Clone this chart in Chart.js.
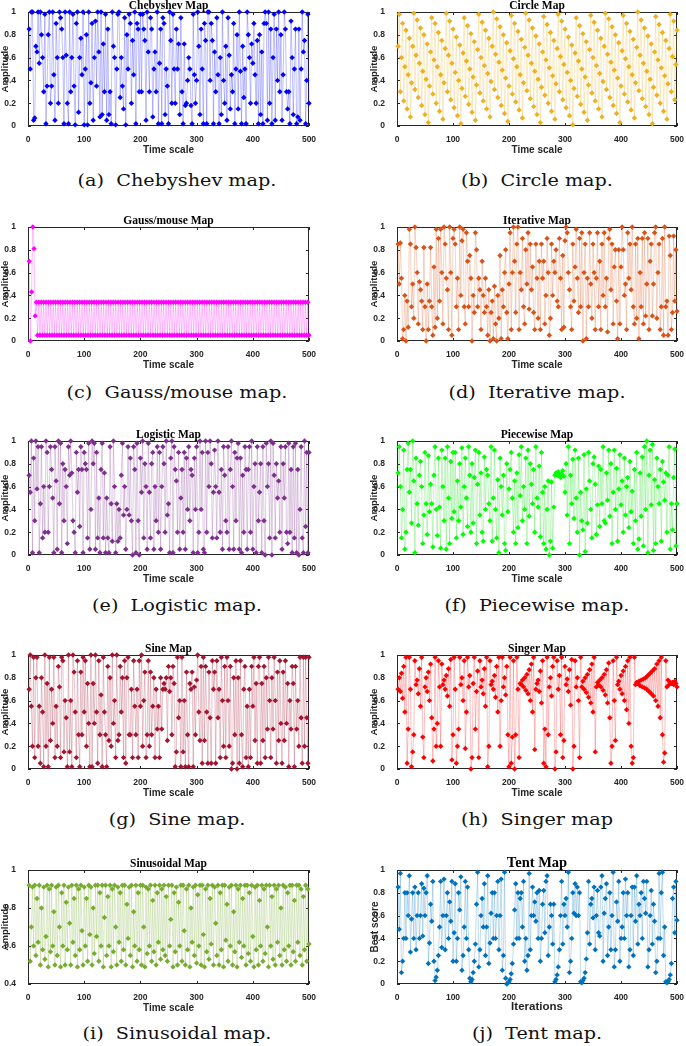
<!DOCTYPE html>
<html>
<head>
<meta charset="utf-8">
<script src="https://cdn.jsdelivr.net/npm/chart.js@4.4.1/dist/chart.umd.min.js"></script>
<style>
  body { margin: 0; background: #fff; }
  #page { position: relative; width: 686px; height: 1046px; overflow: hidden; }
  #page canvas { position: absolute; }
  .caption {
    position: absolute;
    font-family: "DejaVu Serif", serif;
    font-size: 16px;
    color: #111;
    white-space: pre;
    transform: translate(-50%, -50%) scaleX(1.2);
  }
</style>
</head>
<body>
<div id="page"></div>
<script>
const xTicks = [0, 100, 200, 300, 400, 500];
const amplitudeTicks = [0, 0.2, 0.4, 0.6, 0.8, 1];
const sinusoidalTicks = [0.4, 0.6, 0.8, 1];

const chebyshevValues = [
  0.85, 0.5, 1.0, 1.0, 0.05, 0.07, 0.7, 0.65, 1.0, 0.55,
  1.0, 0.8, 0.6, 0.3, 0.98, 0.02, 0.35, 0.8, 1.0, 0.2,
  0.35, 1.0, 0.45, 0.05, 0.9, 0.6, 0.2, 1.0, 0.95, 0.85,
  0.6, 0.02, 1.0, 0.62, 0.2, 0.02, 1.0, 0.3, 0.6, 0.98,
  0.35, 0.01, 0.9, 1.0, 0.12, 0.6, 0.77, 0.45, 1.0, 0.01,
  0.5, 0.8, 0.01, 1.0, 0.2, 0.38, 0.9, 0.05, 0.6, 0.92,
  0.35, 1.0, 0.65, 0.08, 1.0, 0.1, 0.72, 0.3, 0.98, 0.05,
  0.85, 0.1, 0.3, 0.02, 1.0, 0.7, 0.6, 0.01, 0.5, 0.98,
  1.0, 0.25, 0.6, 0.35, 0.15, 0.95, 0.01, 0.8, 0.5, 0.98,
  0.9, 0.2, 0.75, 0.45, 1.0, 0.02, 0.9, 0.85, 0.3, 0.98,
  0.3, 0.98, 0.85, 0.75, 0.05, 1.0, 0.65, 0.3, 0.95, 0.85,
  0.08, 0.5, 0.65, 0.3, 1.0, 0.02, 0.55, 0.85, 0.02, 0.95,
  0.9, 0.1, 0.5, 0.35, 0.02, 1.0, 0.75, 0.2, 0.98, 0.5,
  0.2, 0.85, 0.5, 0.72, 0.1, 0.95, 0.3, 0.02, 0.72, 0.18,
  0.2, 0.4, 0.6, 0.5, 0.18, 0.02, 0.98, 0.45, 0.2, 0.4,
  1.0, 0.7, 0.1, 0.85, 0.5, 0.02, 0.9, 0.75, 0.02, 1.0,
  1.0, 0.4, 0.9, 0.75, 0.02, 0.65, 0.3, 0.95, 0.45, 0.02,
  0.6, 0.1, 1.0, 0.4, 0.2, 0.7, 0.05, 0.95, 0.62, 0.15,
  0.45, 0.3, 0.9, 0.02, 0.5, 0.8, 0.15, 1.0, 0.48, 0.02,
  0.7, 0.25, 0.5, 0.02, 1.0, 0.8, 0.6, 0.2, 0.72, 0.55,
  0.9, 0.45, 0.2, 0.75, 0.02, 0.8, 0.1, 0.65, 0.02, 0.9,
  1.0, 0.9, 0.05, 1.0, 0.2, 0.85, 0.02, 0.6, 0.98, 0.05,
  0.85, 0.4, 1.0, 0.3, 0.8, 0.05, 0.45, 1.0, 0.85, 0.3,
  0.15, 0.3, 0.02, 0.92, 0.6, 0.1, 0.5, 0.85, 0.02, 0.08,
  0.85, 0.05, 0.5, 1.0, 0.65, 0.75, 0.02, 0.4, 0.98, 0.2
];

const circleValues = [
  0.70, 0.98, 0.30, 0.60, 0.90, 0.22, 0.52, 0.84, 0.15, 0.45,
  0.77, 0.08, 0.38, 0.70, 0.99, 0.32, 0.62, 0.93, 0.25, 0.55,
  0.86, 0.18, 0.48, 0.80, 0.10, 0.41, 0.72, 0.03, 0.35, 0.65,
  0.95, 0.28, 0.58, 0.90, 0.20, 0.52, 0.82, 0.13, 0.45, 0.75,
  0.06, 0.38, 0.68, 0.99, 0.30, 0.62, 0.92, 0.23, 0.55, 0.85,
  0.16, 0.47, 0.78, 0.09, 0.40, 0.71, 0.02, 0.33, 0.64, 0.95,
  0.26, 0.57, 0.88, 0.19, 0.50, 0.81, 0.12, 0.43, 0.74, 0.05,
  0.36, 0.67, 0.98, 0.29, 0.60, 0.91, 0.22, 0.53, 0.84, 0.15,
  0.46, 0.77, 0.08, 0.39, 0.70, 1.00, 0.32, 0.63, 0.94, 0.25,
  0.56, 0.87, 0.18, 0.49, 0.80, 0.11, 0.42, 0.73, 0.04, 0.35,
  0.66, 0.97, 0.28, 0.59, 0.90, 0.21, 0.52, 0.83, 0.14, 0.45,
  0.76, 0.07, 0.38, 0.69, 0.99, 0.31, 0.62, 0.93, 0.24, 0.55,
  0.86, 0.17, 0.48, 0.79, 0.10, 0.41, 0.72, 0.03, 0.34, 0.65,
  0.96, 0.27, 0.58, 0.89, 0.20, 0.51, 0.82, 0.13, 0.44, 0.75,
  0.06, 0.37, 0.68, 0.98, 0.30, 0.61, 0.92, 0.23, 0.54, 0.85,
  0.16, 0.47, 0.78, 0.09, 0.40, 0.71, 0.01, 0.33, 0.64, 0.95,
  0.26, 0.57, 0.88, 0.19, 0.50, 0.81, 0.12, 0.43, 0.74, 0.05,
  0.36, 0.67, 0.97, 0.29, 0.60, 0.91, 0.22, 0.53, 0.84, 0.15,
  0.46, 0.77, 0.08, 0.39, 0.70, 0.99, 0.32, 0.63, 0.94, 0.25,
  0.56, 0.87, 0.18, 0.49, 0.80, 0.11, 0.42, 0.73, 0.03, 0.35,
  0.66, 0.97, 0.28, 0.59, 0.90, 0.21, 0.52, 0.83, 0.14, 0.45,
  0.76, 0.07, 0.38, 0.69, 1.00, 0.31, 0.62, 0.93, 0.24, 0.55,
  0.86, 0.17, 0.48, 0.79, 0.10, 0.41, 0.72, 0.02, 0.34, 0.65,
  0.96, 0.27, 0.58, 0.89, 0.20, 0.51, 0.82, 0.13, 0.44, 0.75,
  0.06, 0.37, 0.68, 0.98, 0.30, 0.61, 0.92, 0.23, 0.54, 0.84
];

const gaussValues = [
  0.7, 0.0, 0.43, 1.0, 0.81, 0.22,
  0.34, 0.05, 0.34, 0.05, 0.34, 0.05, 0.34, 0.05, 0.34, 0.05, 0.34, 0.05, 0.34, 0.05, 0.34, 0.05, 0.34, 0.05, 0.34, 0.05,
  0.34, 0.05, 0.34, 0.05, 0.34, 0.05, 0.34, 0.05, 0.34, 0.05, 0.34, 0.05, 0.34, 0.05, 0.34, 0.05, 0.34, 0.05, 0.34, 0.05,
  0.34, 0.05, 0.34, 0.05, 0.34, 0.05, 0.34, 0.05, 0.34, 0.05, 0.34, 0.05, 0.34, 0.05, 0.34, 0.05, 0.34, 0.05, 0.34, 0.05,
  0.34, 0.05, 0.34, 0.05, 0.34, 0.05, 0.34, 0.05, 0.34, 0.05, 0.34, 0.05, 0.34, 0.05, 0.34, 0.05, 0.34, 0.05, 0.34, 0.05,
  0.34, 0.05, 0.34, 0.05, 0.34, 0.05, 0.34, 0.05, 0.34, 0.05, 0.34, 0.05, 0.34, 0.05, 0.34, 0.05, 0.34, 0.05, 0.34, 0.05,
  0.34, 0.05, 0.34, 0.05, 0.34, 0.05, 0.34, 0.05, 0.34, 0.05, 0.34, 0.05, 0.34, 0.05, 0.34, 0.05, 0.34, 0.05, 0.34, 0.05,
  0.34, 0.05, 0.34, 0.05, 0.34, 0.05, 0.34, 0.05, 0.34, 0.05, 0.34, 0.05, 0.34, 0.05, 0.34, 0.05, 0.34, 0.05, 0.34, 0.05,
  0.34, 0.05, 0.34, 0.05, 0.34, 0.05, 0.34, 0.05, 0.34, 0.05, 0.34, 0.05, 0.34, 0.05, 0.34, 0.05, 0.34, 0.05, 0.34, 0.05,
  0.34, 0.05, 0.34, 0.05, 0.34, 0.05, 0.34, 0.05, 0.34, 0.05, 0.34, 0.05, 0.34, 0.05, 0.34, 0.05, 0.34, 0.05, 0.34, 0.05,
  0.34, 0.05, 0.34, 0.05, 0.34, 0.05, 0.34, 0.05, 0.34, 0.05, 0.34, 0.05, 0.34, 0.05, 0.34, 0.05, 0.34, 0.05, 0.34, 0.05,
  0.34, 0.05, 0.34, 0.05, 0.34, 0.05, 0.34, 0.05, 0.34, 0.05, 0.34, 0.05, 0.34, 0.05, 0.34, 0.05, 0.34, 0.05, 0.34, 0.05,
  0.34, 0.05, 0.34, 0.05, 0.34, 0.05, 0.34, 0.05
];

const iterativeValues = [
  0.85, 0.5, 0.86, 0.55, 0.02, 0.1, 0.4, 0.0, 0.35, 0.12,
  0.98, 0.85, 0.3, 0.5, 0.2, 1.0, 0.82, 0.6, 0.15, 0.52,
  0.45, 0.35, 0.1, 0.82, 0.3, 0.0, 0.5, 0.1, 0.35, 0.82,
  0.3, 0.05, 0.65, 0.12, 0.98, 0.2, 0.9, 0.35, 0.98, 0.6,
  0.15, 1.0, 0.85, 0.55, 0.45, 0.1, 1.0, 0.6, 0.05, 0.9,
  0.98, 0.85, 0.3, 0.55, 0.1, 1.0, 0.4, 0.88, 0.98, 0.3,
  0.15, 0.95, 0.7, 0.3, 0.75, 0.55, 0.0, 0.4, 0.25, 0.95,
  0.8, 0.3, 0.55, 0.45, 0.1, 0.7, 0.4, 0.25, 0.55, 0.3,
  0.05, 0.45, 0.0, 0.25, 0.35, 0.02, 0.48, 0.15, 0.0, 0.4,
  0.2, 0.75, 0.02, 0.45, 0.3, 0.6, 0.8, 0.25, 0.02, 0.5,
  0.95, 0.1, 0.6, 1.0, 0.7, 0.25, 0.85, 1.0, 0.1, 0.6,
  0.45, 0.9, 0.3, 0.15, 0.8, 0.5, 0.95, 0.28, 0.85, 0.45,
  0.65, 0.25, 0.1, 0.85, 0.55, 0.2, 0.7, 0.1, 0.85, 0.55,
  0.7, 0.15, 0.4, 0.9, 0.6, 0.05, 0.2, 0.85, 0.4, 0.7,
  0.6, 0.8, 0.35, 0.3, 0.9, 0.55, 0.1, 0.75, 0.12, 0.88,
  1.0, 0.95, 0.6, 0.45, 0.3, 0.1, 0.85, 0.35, 0.65, 0.98,
  0.55, 0.25, 0.9, 0.3, 0.95, 0.0, 0.6, 0.85, 0.02, 0.55,
  0.3, 0.95, 0.5, 0.2, 0.85, 0.6, 0.1, 0.55, 0.95, 0.3,
  0.7, 0.1, 0.85, 0.4, 0.95, 0.3, 0.55, 0.08, 0.9, 0.98,
  0.45, 0.85, 0.15, 0.65, 0.8, 0.35, 0.02, 0.8, 0.15, 0.65,
  1.0, 0.8, 0.4, 0.5, 0.1, 0.95, 0.55, 0.85, 0.45, 1.0,
  0.3, 0.15, 0.85, 0.2, 0.9, 0.02, 0.6, 0.3, 0.9, 0.15,
  0.95, 0.22, 0.5, 0.9, 0.1, 0.7, 0.85, 0.22, 0.5, 0.95,
  1.0, 0.2, 0.6, 0.85, 0.1, 0.3, 0.9, 0.05, 1.0, 0.3,
  0.35, 0.05, 0.92, 0.75, 0.1, 0.25, 0.92, 0.35, 0.8, 0.26
];

const logisticValues = [
  0.7, 0.55, 1.0, 0.02, 0.85, 0.3, 1.0, 0.58, 0.95, 0.02,
  0.45, 0.95, 0.15, 0.6, 0.2, 1.0, 0.9, 0.2, 0.6, 0.95,
  0.75, 0.5, 0.02, 0.95, 0.65, 0.05, 1.0, 0.45, 0.98, 0.02,
  0.8, 0.3, 0.75, 0.6, 0.1, 0.95, 0.7, 1.0, 0.72, 0.3,
  0.2, 0.02, 0.9, 0.55, 0.75, 0.25, 0.95, 0.75, 0.02, 0.9,
  0.8, 0.75, 0.15, 0.98, 0.05, 0.4, 1.0, 0.8, 0.98, 0.05,
  0.9, 0.15, 0.5, 0.02, 0.75, 0.98, 0.15, 0.72, 0.02, 0.5,
  0.15, 0.02, 0.95, 0.45, 0.12, 1.0, 0.6, 0.02, 0.45, 0.12,
  0.4, 0.15, 0.7, 0.98, 0.35, 0.6, 0.05, 0.4, 0.95, 0.35,
  0.85, 0.3, 0.0, 0.95, 0.75, 0.02, 0.98, 0.3, 0.0, 0.85,
  0.55, 1.0, 0.15, 0.8, 0.6, 0.05, 0.98, 0.55, 0.15, 0.8,
  0.9, 0.05, 0.6, 0.3, 0.95, 0.2, 0.9, 0.05, 0.6, 0.95,
  0.8, 0.2, 1.0, 0.35, 0.45, 0.02, 0.85, 1.0, 0.02, 0.95,
  0.75, 0.65, 0.2, 0.9, 0.05, 0.5, 0.75, 0.2, 0.9, 0.05,
  0.85, 0.4, 0.95, 0.3, 0.75, 0.7, 0.02, 0.85, 0.4, 0.95,
  0.02, 0.2, 1.0, 0.4, 0.9, 0.05, 0.02, 1.0, 0.2, 0.9,
  0.6, 1.0, 0.8, 0.15, 0.55, 0.92, 0.6, 0.15, 1.0, 0.55,
  0.2, 0.75, 0.05, 0.95, 0.7, 0.3, 0.2, 0.95, 0.05, 0.75,
  1.0, 0.6, 0.05, 0.9, 0.3, 0.85, 0.98, 0.05, 0.85, 0.02,
  0.7, 0.2, 0.95, 0.75, 0.05, 0.75, 0.95, 0.2, 1.0, 0.05,
  0.6, 0.8, 0.02, 0.95, 0.3, 0.55, 0.8, 0.02, 0.95, 0.3,
  0.0, 0.98, 0.6, 0.8, 0.15, 1.0, 0.0, 0.98, 0.7, 0.15,
  0.8, 0.5, 0.65, 0.2, 0.95, 0.05, 0.8, 0.5, 0.95, 0.2,
  0.1, 0.98, 0.2, 0.75, 0.02, 0.95, 0.15, 0.98, 0.02, 0.75,
  0.0, 0.4, 0.95, 0.15, 0.02, 1.0, 0.25, 0.9, 0.02, 0.9
];

const piecewiseValues = [
  0.72, 0.95, 0.6, 0.15, 0.4, 0.92, 0.05, 0.2, 0.75, 0.98,
  0.55, 0.75, 0.28, 1.0, 0.65, 0.02, 0.85, 0.45, 0.26, 0.7,
  0.82, 0.6, 0.1, 0.35, 0.9, 0.45, 0.18, 0.87, 0.38, 0.62,
  0.45, 0.07, 0.7, 0.95, 0.4, 0.17, 0.85, 0.42, 0.06, 0.92,
  0.6, 0.3, 0.85, 0.05, 0.95, 0.5, 0.1, 0.82, 0.32, 0.9,
  0.38, 0.9, 0.15, 0.65, 0.3, 0.8, 0.42, 0.94, 0.18, 0.6,
  0.85, 0.5, 0.25, 0.95, 0.7, 0.2, 0.8, 0.28, 0.68, 0.92,
  0.1, 0.62, 0.9, 0.35, 0.72, 0.2, 0.12, 0.86, 0.4, 0.75,
  0.7, 0.45, 0.3, 0.95, 0.12, 0.5, 0.92, 0.4, 0.15, 0.66,
  0.02, 0.85, 0.6, 0.35, 0.7, 0.1, 0.04, 0.8, 0.38, 0.58,
  0.75, 0.9, 0.5, 0.2, 0.65, 0.1, 0.72, 0.24, 0.88, 0.52,
  0.95, 0.3, 0.6, 0.4, 0.85, 0.1, 0.92, 0.34, 0.8, 0.62,
  0.45, 0.75, 0.2, 0.95, 0.5, 0.42, 0.78, 0.16, 0.9, 0.55,
  0.1, 0.6, 0.05, 0.4, 0.65, 0.0, 0.12, 0.64, 0.06, 0.42,
  0.7, 0.72, 0.7, 0.73, 0.7, 0.68, 0.71, 0.74, 0.69, 0.55,
  0.8, 0.35, 0.95, 0.1, 0.7, 0.45, 0.84, 0.32, 0.92, 0.5,
  0.2, 0.85, 0.0, 0.55, 0.3, 0.22, 0.88, 0.03, 0.58, 0.28,
  0.9, 0.65, 0.4, 0.15, 0.8, 0.86, 0.62, 0.18, 0.44, 0.78,
  0.25, 0.75, 0.45, 0.95, 0.3, 0.28, 0.72, 0.48, 0.92, 0.34,
  0.8, 0.1, 0.55, 0.92, 0.4, 0.76, 0.12, 0.58, 0.88, 0.44,
  0.65, 0.2, 0.85, 0.35, 0.6, 0.68, 0.24, 0.82, 0.38, 0.56,
  0.1, 0.75, 0.3, 0.9, 0.05, 0.14, 0.72, 0.34, 0.86, 0.08,
  0.95, 0.4, 1.0, 0.02, 0.7, 0.92, 0.44, 0.97, 0.04, 0.66,
  0.1, 0.85, 0.6, 0.45, 0.75, 0.12, 0.82, 0.64, 0.48, 0.72,
  0.2, 0.7, 0.95, 0.05, 0.45, 0.22, 0.68, 0.93, 0.08, 0.45
];

const sineValues = [
  0.7, 1.0, 0.55, 0.2, 0.98, 0.1, 0.8, 0.98, 0.2, 0.55,
  0.05, 0.8, 0.5, 0.02, 1.0, 0.2, 0.75, 0.02, 0.98, 0.25,
  0.7, 0.4, 0.98, 0.1, 0.55, 0.2, 0.9, 0.72, 0.1, 0.98,
  0.95, 0.15, 0.6, 0.45, 0.02, 1.0, 0.15, 0.6, 0.02, 1.0,
  0.85, 0.5, 0.1, 0.95, 0.3, 0.02, 0.85, 0.3, 0.98, 0.5,
  0.95, 0.2, 0.75, 0.4, 0.02, 1.0, 0.02, 0.75, 0.4, 1.0,
  0.5, 0.05, 0.95, 0.3, 0.65, 0.02, 0.98, 0.5, 0.3, 0.02,
  0.9, 0.25, 0.8, 0.2, 1.0, 0.4, 0.6, 0.1, 1.0, 0.25,
  0.3, 0.9, 0.5, 0.8, 0.1, 0.95, 0.05, 0.8, 0.98, 0.3,
  0.3, 0.7, 0.1, 0.95, 0.55, 0.3, 0.7, 0.1, 0.95, 0.55,
  1.0, 0.2, 0.6, 0.85, 0.1, 0.3, 0.95, 0.2, 0.85, 0.3,
  0.55, 0.8, 0.1, 0.7, 0.35, 0.55, 0.1, 0.8, 0.35, 0.7,
  0.75, 0.7, 0.8, 0.25, 0.9, 0.68, 0.8, 0.3, 0.9, 0.75,
  0.02, 0.15, 0.98, 0.45, 0.6, 0.02, 0.98, 0.15, 0.6, 0.02,
  0.85, 0.3, 0.02, 0.75, 0.7, 0.85, 0.02, 0.72, 0.3, 0.78,
  1.0, 0.5, 0.25, 0.9, 0.05, 0.98, 0.25, 0.9, 0.5, 0.05,
  0.85, 0.45, 0.05, 0.95, 0.7, 0.85, 0.05, 0.95, 0.45, 0.7,
  0.1, 0.98, 0.6, 0.2, 0.9, 0.1, 0.98, 0.6, 0.2, 0.9,
  0.0, 0.05, 0.8, 0.3, 0.95, 0.0, 0.8, 0.05, 0.95, 0.3,
  0.02, 0.7, 0.9, 0.1, 0.55, 0.02, 0.7, 0.1, 0.9, 0.55,
  0.98, 0.25, 0.75, 0.05, 0.9, 0.98, 0.05, 0.75, 0.25, 0.9,
  0.1, 0.8, 0.35, 0.98, 0.6, 0.1, 0.8, 0.35, 0.98, 0.6,
  0.05, 0.85, 0.25, 0.95, 0.4, 0.05, 0.85, 0.25, 0.95, 0.4,
  0.75, 0.02, 0.6, 0.35, 0.9, 0.75, 0.02, 0.9, 0.35, 0.6,
  0.2, 0.98, 0.45, 0.05, 0.98, 0.2, 0.98, 0.45, 0.05, 0.98
];

const singerValues = [
  0.7, 0.8, 0.68, 0.84, 0.62, 0.9, 0.5, 0.98, 0.05, 0.35,
  0.98, 0.7, 0.02, 0.15, 0.3, 0.95, 0.74, 0.78, 0.66, 0.88,
  0.55, 0.98, 0.28, 0.1, 0.72, 0.8, 0.68, 0.85, 0.6, 0.92,
  0.45, 0.07, 0.35, 0.98, 0.2, 0.4, 0.95, 0.72, 0.2, 0.92,
  0.74, 0.78, 0.7, 0.82, 0.64, 0.88, 0.55, 0.96, 0.08, 0.3,
  0.98, 0.7, 0.05, 0.2, 0.35, 0.98, 0.74, 0.8, 0.6, 0.95,
  0.18, 0.5, 0.98, 0.72, 0.82, 0.0, 0.1, 0.75, 0.98, 0.35,
  0.68, 0.86, 0.1, 0.95, 0.72, 0.78, 0.66, 0.88, 0.55, 0.98,
  0.02, 0.2, 0.95, 0.74, 0.77, 0.7, 0.82, 0.63, 0.9, 0.5,
  0.98, 0.2, 0.6, 0.98, 0.72, 0.8, 0.65, 0.9, 0.3, 0.02,
  0.98, 0.05, 0.28, 0.95, 0.0, 0.3, 0.98, 0.7, 0.1, 0.75,
  0.74, 0.78, 0.72, 0.8, 0.69, 0.83, 0.66, 0.87, 0.6, 0.92,
  0.5, 0.98, 0.17, 0.7, 0.75, 0.78, 0.68, 0.86, 0.58, 0.95,
  0.05, 0.35, 0.02, 0.98, 0.3, 0.72, 0.8, 0.64, 0.9, 0.98,
  0.0, 0.15, 0.95, 0.7, 0.82, 0.3, 0.98, 0.1, 0.25, 0.9,
  0.74, 0.79, 0.68, 0.87, 0.56, 0.96, 0.0, 0.2, 0.95, 0.72,
  0.8, 0.6, 0.1, 0.98, 0.72, 0.77, 0.7, 0.8, 0.67, 0.83,
  0.63, 0.87, 0.58, 0.92, 0.5, 0.98, 0.15, 0.72, 0.76, 0.74,
  0.78, 0.72, 0.8, 0.69, 0.83, 0.65, 0.87, 0.58, 0.93, 0.45,
  0.05, 0.2, 0.95, 0.6, 0.25, 0.98, 0.74, 0.77, 0.7, 0.82,
  0.66, 0.86, 0.6, 0.9, 0.52, 0.95, 0.4, 0.98, 0.2, 0.05,
  0.1, 0.98, 0.74, 0.76, 0.75, 0.77, 0.73, 0.78, 0.72, 0.79,
  0.71, 0.8, 0.7, 0.82, 0.68, 0.84, 0.66, 0.86, 0.64, 0.88,
  0.6, 0.92, 0.55, 0.95, 0.45, 0.98, 0.3, 0.06, 0.14, 0.95,
  0.72, 0.78, 0.74, 0.76, 0.75, 0.76, 0.74, 0.77, 0.75, 0.72
];

const sinusoidalValues = [
  0.92, 0.52, 0.7, 0.91, 0.6, 0.92, 0.55, 0.85, 0.62, 0.92,
  0.5, 0.8, 0.58, 0.91, 0.53, 0.65, 0.92, 0.49, 0.9, 0.57,
  0.92, 0.6, 0.78, 0.5, 0.91, 0.55, 0.92, 0.7, 0.49, 0.88,
  0.6, 0.92, 0.5, 0.83, 0.58, 0.91, 0.72, 0.5, 0.92, 0.62,
  0.85, 0.55, 0.92, 0.49, 0.9, 0.58, 0.92, 0.68, 0.5, 0.91,
  0.6, 0.85, 0.52, 0.92, 0.66, 0.91, 0.5, 0.8, 0.56, 0.92,
  0.65, 0.92, 0.52, 0.88, 0.6, 0.92, 0.49, 0.75, 0.92, 0.55,
  0.86, 0.6, 0.92, 0.49, 0.9, 0.57, 0.92, 0.7, 0.5, 0.91,
  0.62, 0.88, 0.52, 0.92, 0.58, 0.92, 0.5, 0.82, 0.64, 0.91,
  0.55, 0.92, 0.49, 0.78, 0.6, 0.92, 0.52, 0.88, 0.58, 0.92,
  0.5, 0.92, 0.7, 0.49, 0.91, 0.56, 0.9, 0.6, 0.92, 0.52,
  0.84, 0.57, 0.92, 0.5, 0.88, 0.62, 0.92, 0.53, 0.9, 0.58,
  0.92, 0.55, 0.86, 0.52, 0.92, 0.6, 0.74, 0.92, 0.49, 0.88,
  0.57, 0.91, 0.5, 0.83, 0.6, 0.92, 0.52, 0.92, 0.68, 0.5,
  0.9, 0.58, 0.92, 0.49, 0.8, 0.62, 0.91, 0.55, 0.92, 0.51,
  0.87, 0.6, 0.92, 0.5, 0.92, 0.66, 0.49, 0.9, 0.57, 0.92,
  0.53, 0.85, 0.61, 0.92, 0.5, 0.91, 0.72, 0.55, 0.92, 0.5,
  0.88, 0.58, 0.92, 0.49, 0.92, 0.63, 0.82, 0.52, 0.91, 0.6,
  0.92, 0.5, 0.78, 0.57, 0.92, 0.49, 0.9, 0.62, 0.92, 0.54,
  0.85, 0.6, 0.92, 0.5, 0.92, 0.56, 0.88, 0.52, 0.92, 0.65,
  0.49, 0.91, 0.58, 0.92, 0.5, 0.84, 0.6, 0.92, 0.52, 0.9,
  0.56, 0.92, 0.7, 0.49, 0.92, 0.6, 0.86, 0.53, 0.92, 0.5,
  0.9, 0.62, 0.92, 0.55, 0.8, 0.5, 0.92, 0.58, 0.91, 0.52,
  0.88, 0.6, 0.92, 0.5, 0.92, 0.57, 0.84, 0.52, 0.92, 0.62,
  0.92, 0.55, 0.9, 0.5, 0.86, 0.58, 0.92, 0.52, 0.9, 0.61
];

const tentValues = [
  0.85, 0.48, 0.97, 0.1, 0.2, 0.4, 0.8, 0.4, 0.8, 0.6,
  0.95, 0.28, 0.57, 0.8, 0.4, 0.85, 0.3, 0.6, 0.8, 0.4,
  0.6, 0.88, 0.42, 0.84, 0.6, 0.8, 0.95, 0.18, 0.36, 0.7,
  0.55, 0.9, 0.2, 0.03, 0.06, 0.12, 0.25, 0.5, 0.9, 0.32,
  0.6, 0.92, 0.3, 0.6, 0.8, 0.4, 0.72, 0.55, 0.9, 0.2,
  0.45, 0.88, 0.2, 0.4, 0.8, 0.65, 0.94, 0.12, 0.25, 0.5,
  0.9, 0.4, 0.85, 0.3, 0.05, 0.02, 0.04, 0.1, 0.2, 0.35,
  0.7, 0.98, 0.15, 0.3, 0.6, 0.75, 0.5, 0.88, 0.25, 0.5,
  0.95, 0.18, 0.36, 0.62, 0.8, 0.4, 0.8, 0.4, 0.6, 0.9,
  0.3, 0.6, 0.92, 0.12, 0.25, 0.98, 0.05, 0.0, 0.01, 0.02,
  0.04, 0.09, 0.18, 0.35, 0.65, 0.88, 0.4, 0.8, 0.4, 0.75,
  0.8, 0.5, 0.9, 0.2, 0.4, 0.12, 0.25, 0.97, 0.3, 0.6,
  0.85, 0.6, 0.72, 0.55, 0.8, 0.4, 0.82, 0.2, 0.4, 0.7,
  0.82, 0.45, 0.9, 0.95, 0.25, 0.5, 0.7, 0.6, 0.35, 0.7,
  0.02, 0.04, 0.08, 0.15, 0.3, 0.6, 0.9, 0.35, 0.7, 0.6,
  0.75, 0.5, 0.98, 0.1, 0.2, 0.4, 0.8, 0.62, 0.88, 0.6,
  0.85, 0.6, 0.8, 0.02, 0.01, 0.03, 0.05, 0.1, 0.22, 0.45,
  0.9, 0.35, 0.7, 0.75, 0.58, 0.85, 0.3, 0.6, 0.82, 0.45,
  0.42, 0.85, 0.95, 0.2, 0.62, 0.75, 0.88, 0.25, 0.5, 0.8,
  0.3, 0.6, 0.98, 0.15, 0.3, 0.72, 0.55, 0.9, 0.2, 0.4,
  0.5, 0.8, 0.4, 0.92, 0.6, 0.8, 0.15, 0.3, 0.6, 0.85,
  0.25, 0.85, 0.55, 0.95, 0.35, 0.7, 0.6, 0.8, 0.4, 0.9,
  0.75, 0.62, 0.9, 0.15, 0.3, 0.6, 0.82, 0.35, 0.7, 0.55,
  0.1, 0.2, 0.4, 0.97, 0.4, 0.8, 0.98, 0.25, 0.5, 0.02,
  0.01, 0.02, 0.04, 0.08, 0.18, 0.75, 0.85, 0.45, 0.9, 0.56
];

const smallFonts = { title: 11.5, tick: 8.5, xLabel: 10, yLabel: 9.6 };
const tentFonts = { title: 14.5, tick: 8.5, xLabel: 11.5, yLabel: 10 };

const LEFT_X = 28, RIGHT_X = 397, PLOT_H = 114;
const rowTops = [12, 227, 441, 655, 870];
const captionYs = [180, 392, 605, 819, 1033];

const panels = [
  { title: "Chebyshev Map", caption: "(a)  Chebyshev map.", values: chebyshevValues, color: "#0000ff", line: "rgba(0,0,255,0.5)", col: 0, row: 0 },
  { title: "Circle Map", caption: "(b)  Circle map.", values: circleValues, color: "#EDB120", line: "rgba(237,177,32,0.5)", col: 1, row: 0 },
  { title: "Gauss/mouse Map", caption: "(c)  Gauss/mouse map.", values: gaussValues, color: "#ff00ff", line: "rgba(255,0,255,0.5)", col: 0, row: 1 },
  { title: "Iterative Map", caption: "(d)  Iterative map.", values: iterativeValues, color: "#D95319", line: "rgba(217,83,25,0.5)", col: 1, row: 1 },
  { title: "Logistic Map", caption: "(e)  Logistic map.", values: logisticValues, color: "#7E2F8E", line: "rgba(126,47,142,0.5)", col: 0, row: 2 },
  { title: "Piecewise Map", caption: "(f)  Piecewise map.", values: piecewiseValues, color: "#00ff00", line: "rgba(0,220,0,0.5)", col: 1, row: 2 },
  { title: "Sine Map", caption: "(g)  Sine map.", values: sineValues, color: "#A2142F", line: "rgba(162,20,47,0.5)", col: 0, row: 3 },
  { title: "Singer Map", caption: "(h)  Singer map", values: singerValues, color: "#ff0000", line: "rgba(255,0,0,0.5)", col: 1, row: 3 },
  { title: "Sinusoidal Map", caption: "(i)  Sinusoidal map.", values: sinusoidalValues, color: "#77AC30", line: "rgba(119,172,48,0.5)", col: 0, row: 4, yTicks: sinusoidalTicks },
  { title: "Tent Map", caption: "(j)  Tent map.", values: tentValues, color: "#0072BD", line: "rgba(0,114,189,0.5)", col: 1, row: 4, fonts: tentFonts, xLabel: "Iterations", yLabel: "Best score" }
];

// box around the plot, inward ticks on all four sides, bold serif title on top
const axesBox = {
  id: "axesBox",
  beforeDatasetsDraw(chart, args, opts) {
    const { ctx, chartArea: a, scales } = chart;
    ctx.save();
    ctx.strokeStyle = "#262626";
    ctx.lineWidth = 1;
    ctx.strokeRect(a.left + 0.5, a.top + 0.5, a.right - a.left - 1, a.bottom - a.top - 1);
    ctx.beginPath();
    scales.x.ticks.forEach((t) => {
      const px = Math.round(scales.x.getPixelForValue(t.value)) + 0.5;
      ctx.moveTo(px, a.bottom); ctx.lineTo(px, a.bottom - 3);
      ctx.moveTo(px, a.top); ctx.lineTo(px, a.top + 3);
    });
    scales.y.ticks.forEach((t) => {
      const py = Math.round(scales.y.getPixelForValue(t.value)) + 0.5;
      ctx.moveTo(a.left, py); ctx.lineTo(a.left + 3, py);
      ctx.moveTo(a.right, py); ctx.lineTo(a.right - 3, py);
    });
    ctx.stroke();
    ctx.fillStyle = "#000";
    ctx.font = "bold " + opts.size + "px 'Liberation Serif', serif";
    ctx.textAlign = "center";
    ctx.textBaseline = "alphabetic";
    ctx.fillText(opts.text, (a.left + a.right) / 2, a.top - 3);
    ctx.restore();
  }
};

const page = document.getElementById("page");
const Y_AXIS_W = 28, X_AXIS_H = 30, PAD_TOP = 16, PAD_RIGHT = 12;

panels.forEach((p) => {
  const fonts = p.fonts || smallFonts;
  const yTicks = p.yTicks || amplitudeTicks;
  const plotLeft = p.col === 0 ? LEFT_X : RIGHT_X;
  const plotW = p.col === 0 ? 281 : 280;
  const plotTop = rowTops[p.row];

  const canvas = document.createElement("canvas");
  canvas.width = plotW + Y_AXIS_W + PAD_RIGHT;
  canvas.height = PLOT_H + PAD_TOP + X_AXIS_H;
  canvas.style.left = (plotLeft - Y_AXIS_W) + "px";
  canvas.style.top = (plotTop - PAD_TOP) + "px";
  page.appendChild(canvas);

  const cap = document.createElement("div");
  cap.className = "caption";
  cap.textContent = p.caption;
  cap.style.left = (p.col === 0 ? 177 : 537) + "px";
  cap.style.top = captionYs[p.row] + "px";
  page.appendChild(cap);

  const n = p.values.length;
  const tickFont = { family: "'Liberation Sans', Arial, sans-serif", size: fonts.tick, weight: "bold" };

  new Chart(canvas.getContext("2d"), {
    type: "line",
    data: {
      datasets: [{
        data: p.values.map((v, i) => ({ x: (i + 1) * 500 / n, y: v })),
        borderColor: p.line,
        borderWidth: 0.5,
        tension: 0,
        pointStyle: "rectRot",
        pointRadius: 2.7,
        pointBorderWidth: 0,
        pointBackgroundColor: p.color,
        pointBorderColor: p.color,
        clip: 5
      }]
    },
    options: {
      responsive: false,
      animation: false,
      events: [],
      layout: { padding: { top: PAD_TOP, right: PAD_RIGHT, left: 0, bottom: 0 } },
      plugins: {
        legend: { display: false },
        tooltip: { enabled: false },
        axesBox: { text: p.title, size: fonts.title }
      },
      scales: {
        x: {
          type: "linear",
          min: xTicks[0],
          max: xTicks[xTicks.length - 1],
          afterBuildTicks: (s) => { s.ticks = xTicks.map((v) => ({ value: v })); },
          afterFit: (s) => { s.height = X_AXIS_H; },
          grid: { display: false },
          border: { display: false },
          ticks: { padding: 1, color: "#262626", font: tickFont, maxRotation: 0, autoSkip: false },
          title: {
            display: true, text: p.xLabel || "Time scale", color: "#262626", padding: 0,
            font: { family: "'Liberation Sans', Arial, sans-serif", size: fonts.xLabel, weight: "bold" }
          }
        },
        y: {
          type: "linear",
          min: yTicks[0],
          max: yTicks[yTicks.length - 1],
          afterBuildTicks: (s) => { s.ticks = yTicks.map((v) => ({ value: v })); },
          afterFit: (s) => { s.width = Y_AXIS_W; },
          grid: { display: false },
          border: { display: false },
          ticks: { padding: 4, color: "#262626", font: tickFont, callback: (v) => String(+Number(v).toFixed(2)) },
          title: {
            display: true, text: p.yLabel || "Amplitude", color: "#262626", padding: 0,
            font: { family: "'Liberation Sans', Arial, sans-serif", size: fonts.yLabel, weight: "bold" }
          }
        }
      }
    },
    plugins: [axesBox]
  });
});
</script>
</body>
</html>
